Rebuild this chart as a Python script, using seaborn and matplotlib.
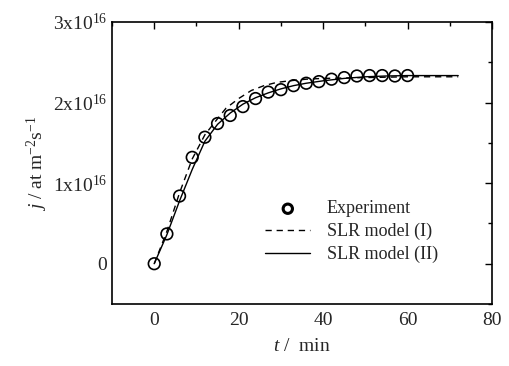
import matplotlib
matplotlib.use("Agg")
import matplotlib.pyplot as plt
import seaborn as sns
import pandas as pd
from matplotlib.ticker import MultipleLocator, FuncFormatter

# Experimental data (t in min, j in 1e16 at m^-2 s^-1)
t_exp = [0, 3, 6, 9, 12, 15, 18, 21, 24, 27, 30, 33, 36, 39, 42, 45, 48, 51, 54, 57, 60]
j_exp = [0.0, 0.37, 0.84, 1.32, 1.57, 1.74, 1.84, 1.95, 2.05, 2.13, 2.16, 2.21, 2.24, 2.26,
         2.29, 2.31, 2.33, 2.335, 2.335, 2.33, 2.335]

# SLR model (I) - dashed
t_m1 = [0, 3, 6, 9, 12, 15, 17, 20, 23, 26, 29, 32, 36, 40, 50, 60, 72]
j_m1 = [0.0, 0.40, 0.88, 1.30, 1.60, 1.80, 1.93, 2.05, 2.15, 2.21, 2.25, 2.27, 2.29, 2.30,
        2.31, 2.32, 2.32]

# SLR model (II) - solid
t_m2 = [0, 3, 6, 9, 12, 15, 18, 21, 24, 27, 30, 33, 36, 40, 45, 50, 55, 60, 72]
j_m2 = [0.0, 0.36, 0.78, 1.17, 1.52, 1.73, 1.87, 1.98, 2.06, 2.12, 2.17, 2.21, 2.24, 2.27,
        2.30, 2.32, 2.33, 2.335, 2.335]

scale = 1e16
df_exp = pd.DataFrame({"t": t_exp, "j": [v * scale for v in j_exp]})
df_m1 = pd.DataFrame({"t": t_m1, "j": [v * scale for v in j_m1]})
df_m2 = pd.DataFrame({"t": t_m2, "j": [v * scale for v in j_m2]})

sns.set_theme(style="white")
plt.rcParams["font.family"] = ["Liberation Serif", "DejaVu Serif"]
plt.rcParams["mathtext.fontset"] = "custom"
plt.rcParams["mathtext.rm"] = "Liberation Serif"
plt.rcParams["mathtext.it"] = "Liberation Serif:italic"

fig = plt.figure(figsize=(5.1, 3.66), dpi=100)
ax = fig.add_axes([0.2196, 0.1694, 0.7451, 0.7705])

sns.lineplot(data=df_m1, x="t", y="j", ax=ax, color="black", lw=1.0,
             label="SLR model (I)")
ax.lines[-1].set_linestyle((0, (4.5, 3.5)))
sns.lineplot(data=df_m2, x="t", y="j", ax=ax, color="black", linestyle="-", lw=1.0,
             label="SLR model (II)")
sns.scatterplot(data=df_exp, x="t", y="j", ax=ax, marker="o", s=70, facecolor="none",
                edgecolor="black", linewidth=1.2, label="Experiment", zorder=5)

ax.set_xlim(-10, 80)
ax.set_ylim(-0.5e16, 3e16)
ax.xaxis.set_major_locator(MultipleLocator(20))
ax.xaxis.set_minor_locator(MultipleLocator(10))
ax.yaxis.set_major_locator(MultipleLocator(1e16))
ax.yaxis.set_minor_locator(MultipleLocator(0.5e16))

def yfmt(v, pos):
    n = round(v / 1e16)
    if n == 0:
        return "0"
    return f"{n}x10$^{{16}}$"

ax.yaxis.set_major_formatter(FuncFormatter(yfmt))
ax.tick_params(which="both", direction="in", top=True, right=True, color="black",
               labelsize=14)
ax.tick_params(which="major", length=5, width=1)
ax.tick_params(which="minor", length=3, width=1)
ax.tick_params(axis="x", pad=6)
for sp in ax.spines.values():
    sp.set_color("black")
    sp.set_linewidth(1.2)

ax.set_xlabel("$t$ /  min", fontsize=14, labelpad=6)
ax.set_ylabel("$j$ / at m$^{-2}$s$^{-1}$", fontsize=14, labelpad=2)

handles, labels = ax.get_legend_handles_labels()
order = [labels.index("Experiment"), labels.index("SLR model (I)"), labels.index("SLR model (II)")]
leg = ax.legend([handles[i] for i in order], [labels[i] for i in order],
                loc="lower right", bbox_to_anchor=(0.90, 0.088), frameon=False,
                fontsize=13, handlelength=2.5, handletextpad=0.9, labelspacing=0.3)
mk = leg.legend_handles[0]
mk.set_linewidth(2.2)
mk.set_sizes([45])
leg.legend_handles[1].set_linestyle((0, (4.5, 3.5)))

fig.savefig("out.png", dpi=100)
